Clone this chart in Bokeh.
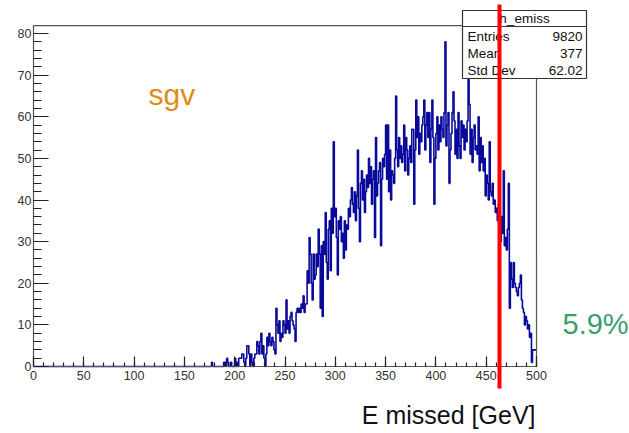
from bokeh.plotting import figure
from bokeh.models import Range1d, LinearAxis, FixedTicker
from bokeh.core.properties import value
from bokeh.embed import file_html
from bokeh.resources import INLINE

# ---------------- data ----------------
first_bin = 170          # GeV, lower edge of first listed bin
n_bins_total = 500       # histogram 0..500 GeV, 1 GeV bins
counts = [
    0, 0, 0, 0, 0, 0, 0, 1, 0, 0,
    0, 0, 0, 0, 0, 0, 0, 0, 0, 1,
    1, 0, 2, 1, 0, 0, 1, 0, 0, 0,
    2, 0, 1, 0, 2, 2, 2, 3, 3, 1,
    0, 2, 5, 5, 3, 0, 3, 1, 0, 2,
    3, 3, 6, 5, 3, 6, 8, 3, 5, 2,
    0, 3, 7, 5, 8, 6, 5, 7, 6, 4,
    3, 14, 10, 8, 11, 6, 8, 7, 11, 10,
    8, 16, 9, 11, 8, 12, 13, 11, 10, 9,
    6, 13, 14, 13, 14, 13, 15, 14, 17, 13,
    15, 15, 23, 20, 31, 27, 20, 16, 27, 21,
    22, 27, 24, 33, 27, 14, 29, 12, 30, 27,
    37, 25, 21, 33, 35, 23, 38, 32, 54, 36,
    38, 31, 22, 35, 33, 36, 30, 32, 26, 35,
    28, 34, 33, 38, 36, 40, 43, 39, 37, 42,
    35, 41, 52, 38, 30, 44, 47, 40, 45, 37,
    42, 46, 43, 50, 44, 48, 39, 45, 47, 31,
    55, 41, 44, 47, 49, 29, 45, 50, 48, 51,
    58, 45, 58, 42, 52, 40, 47, 46, 44, 50,
    65, 52, 48, 55, 50, 53, 49, 51, 58, 47,
    55, 52, 46, 50, 53, 49, 57, 57, 39, 52,
    64, 55, 60, 51, 56, 54, 58, 60, 64, 52,
    58, 61, 55, 61, 49, 57, 64, 55, 39, 50,
    56, 60, 52, 58, 54, 60, 57, 55, 61, 78,
    53, 58, 61, 44, 52, 56, 61, 66, 59, 51,
    57, 50, 61, 53, 50, 59, 55, 58, 52, 57,
    54, 59, 69, 63, 51, 57, 49, 55, 58, 52,
    53, 51, 60, 47, 55, 49, 53, 47, 50, 41,
    46, 44, 40, 54, 42, 41, 44, 39, 40, 37,
    38, 35, 39, 33, 30, 36, 32, 47, 29, 31,
    28, 33, 44, 14, 25, 21, 19, 25, 20, 19,
    18, 17, 19, 20, 22, 16, 14, 13, 10, 12,
    11, 9, 10, 7, 8, 1, 4, 4, 4, 4,
]
x_ticks = [0, 50, 100, 150, 200, 250, 300, 350, 400, 450, 500]
x_minor_ticks = list(range(0, 501, 10))
y_ticks = [0, 10, 20, 30, 40, 50, 60, 70, 80]
y_minor_ticks = list(range(0, 81, 2))
cut_value = 463.2
stats_title = "h_emiss"
stats_names = ["Entries", "Mean", "Std Dev"]
stats_values = ["9820", "377", "62.02"]
sample_label = "sgv"
fraction_label = "5.9%"
x_title = "E missed [GeV]"

# ---------------- layout (pixel geometry of the page) ----------------
W, H = 629, 433
X0_PX, PX_PER_X = 33.0, 1.006     # x=0 at pixel 33
Y0_PX, PX_PER_Y = 366.0, 4.1625   # y=0 at pixel 366


def px2x(px):
    return (px - X0_PX) / PX_PER_X


def px2y(py):
    return (Y0_PX - py) / PX_PER_Y


FONT = "Liberation Sans"

p = figure(width=W, height=H, output_backend="svg", toolbar_location=None,
           x_range=Range1d(px2x(0), px2x(W)), y_range=Range1d(px2y(H), px2y(0)),
           x_axis_location=None, y_axis_location=None, min_border=0,
           outline_line_color=None, background_fill_color="white",
           border_fill_color="white")
p.xgrid.visible = False
p.ygrid.visible = False

# histogram as step line
edges = list(range(0, n_bins_total + 1))
full = [0] * first_bin + counts
heights = full + [full[-1]]
p.step(x=edges, y=heights, mode="after", line_color="#0a0a9a", line_width=1.6)

# frame
y_max = 1.05 * max(counts)
p.quad(left=[0], right=[n_bins_total], bottom=[0], top=[y_max],
       fill_color=None, line_color="#555555", line_width=1.2)

# axes (fixed at 0, ROOT style inward ticks)
xaxis = LinearAxis(fixed_location=0,
                   ticker=FixedTicker(ticks=x_ticks, minor_ticks=x_minor_ticks),
                   axis_line_color=None,
                   major_tick_in=10, major_tick_out=0,
                   minor_tick_in=4, minor_tick_out=0,
                   major_tick_line_color="#222222", minor_tick_line_color="#222222",
                   major_tick_line_width=1.2, minor_tick_line_width=1.2,
                   major_label_text_font=FONT, major_label_text_font_size="12.5px",
                   major_label_text_color="#333333", major_label_standoff=4)
p.add_layout(xaxis, "below")
yaxis = LinearAxis(fixed_location=0,
                   ticker=FixedTicker(ticks=y_ticks, minor_ticks=y_minor_ticks),
                   axis_line_color=None,
                   major_tick_in=15, major_tick_out=0,
                   minor_tick_in=8, minor_tick_out=0,
                   major_tick_line_color="#222222", minor_tick_line_color="#222222",
                   major_tick_line_width=1.2, minor_tick_line_width=1.2,
                   major_label_text_font=FONT, major_label_text_font_size="12.5px",
                   major_label_text_color="#333333", major_label_standoff=2)
p.add_layout(yaxis, "left")

# stats box
bx0, bx1 = px2x(462), px2x(586)
by0, by1 = px2y(78), px2y(10)
p.quad(left=[bx0], right=[bx1], bottom=[by0], top=[by1],
       fill_color="white", line_color="#333333", line_width=1.2)
p.segment(x0=[bx0], y0=[px2y(26)], x1=[bx1], y1=[px2y(26)],
          line_color="#333333", line_width=1.2)
p.text(x=[px2x(524)], y=[px2y(18)], text=[stats_title],
       text_font=value(FONT), text_font_size=value("13.5px"),
       text_align="center", text_baseline="alphabetic", text_color="#111111")
row_y = [px2y(35.5), px2y(52.5), px2y(69.5)]
p.text(x=[px2x(467)] * 3, y=row_y, text=stats_names,
       text_font=value(FONT), text_font_size=value("13.5px"),
       text_align="left", text_baseline="alphabetic", text_color="#111111")
p.text(x=[px2x(582)] * 3, y=row_y, text=stats_values,
       text_font=value(FONT), text_font_size=value("13.5px"),
       text_align="right", text_baseline="alphabetic", text_color="#111111")

# cut line
p.segment(x0=[cut_value], y0=[px2y(388)], x1=[cut_value], y1=[px2y(4)],
          line_color="#ff0000", line_width=4)

# annotations
p.text(x=[px2x(148)], y=[px2y(93.5)], text=[sample_label],
       text_font=value(FONT), text_font_size=value("30px"),
       text_align="left", text_baseline="alphabetic", text_color="#e08a1a")
p.text(x=[px2x(562)], y=[px2y(323.5)], text=[fraction_label],
       text_font=value(FONT), text_font_size=value("29px"),
       text_align="left", text_baseline="alphabetic", text_color="#3a9e6e")
p.text(x=[px2x(535)], y=[px2y(414)], text=[x_title],
       text_font=value(FONT), text_font_size=value("25px"),
       text_align="right", text_baseline="alphabetic", text_color="#111111")

open("out.html", "w").write(file_html(p, INLINE))
